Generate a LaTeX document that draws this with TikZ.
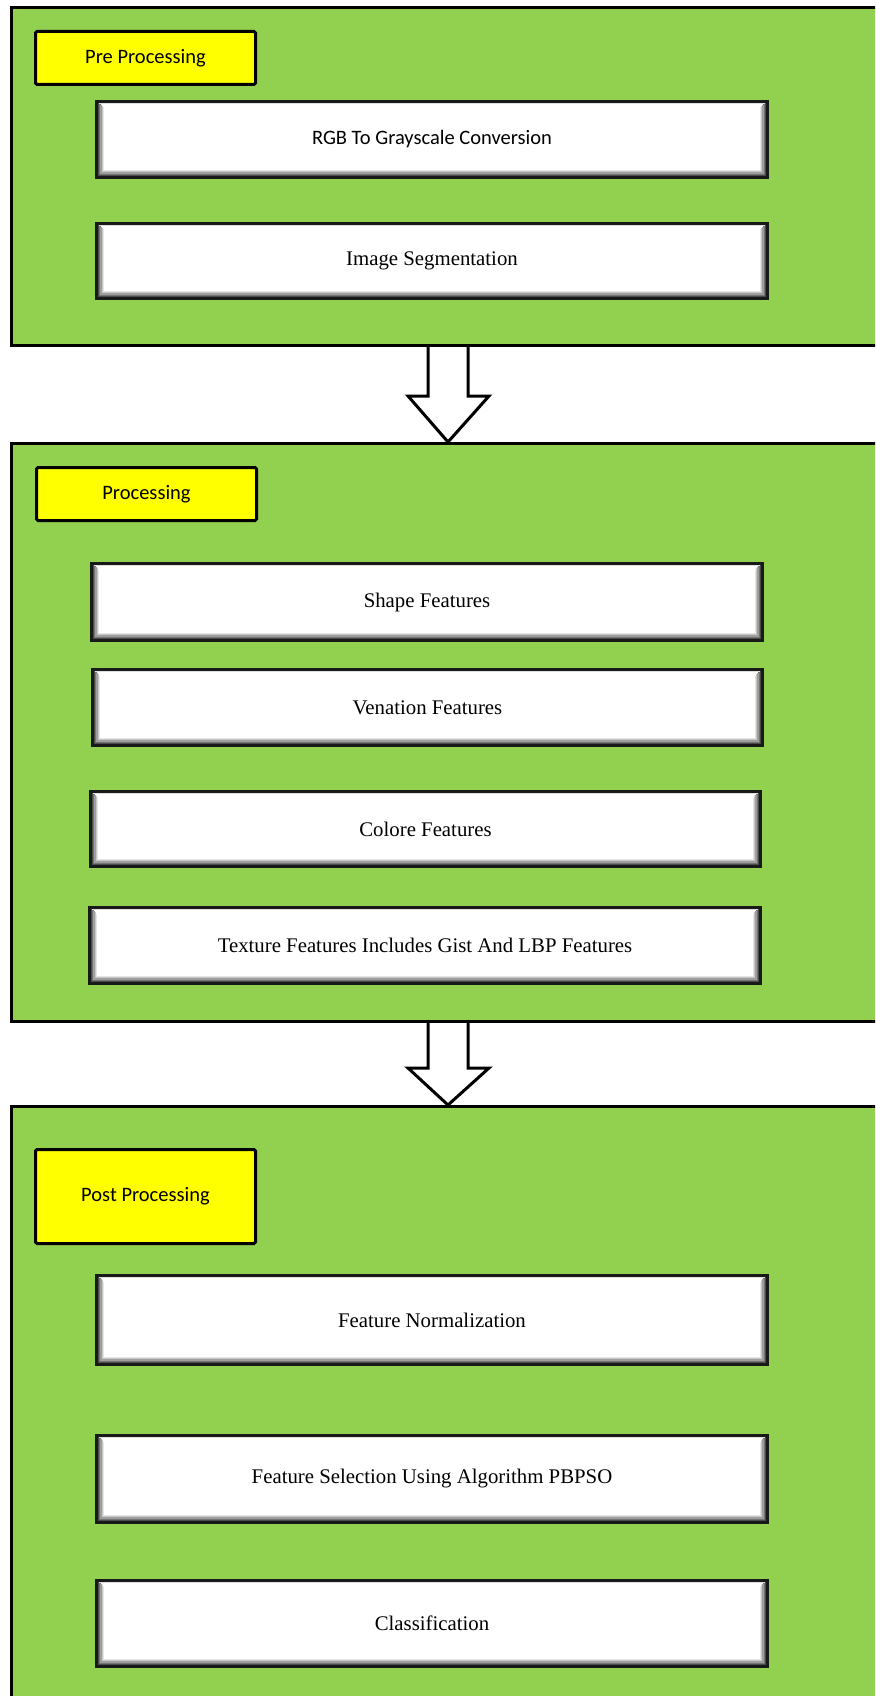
\documentclass[tikz,border=0pt]{standalone}
\usepackage{fontspec}
\setmainfont{Liberation Serif}
\newfontfamily\calib{Carlito}
\usetikzlibrary{calc}
\definecolor{leafgreen}{HTML}{92D050}
\definecolor{tagyellow}{HTML}{FFFF00}
\begin{document}
\begin{tikzpicture}[x=1pt,y=-1pt,
  panel/.style={draw=black,line width=3pt,fill=leafgreen,anchor=north west,inner sep=0pt,minimum width=900pt},
  tag/.style={draw=black,line width=3pt,fill=tagyellow,rounded corners=1.5pt,anchor=north west,inner sep=0pt,
     minimum width=220pt,font=\calib\fontsize{20.5}{24}\selectfont},
  featbox/.style={draw=black!90,line width=3pt,fill=white,anchor=north west,inner sep=0pt,
     minimum width=671pt,font=\fontsize{20.8}{24}\selectfont,
     path picture={
       \draw[gray!25,line width=1.5pt] ($(path picture bounding box.north west)+(2,2.2)$) -- ($(path picture bounding box.north east)+(-2,2.2)$);
       \foreach \i/\c in {2.2/70,3.4/55,4.6/38,5.8/22,7/10}{
         \draw[black!\c,line width=1.3pt]
           ($(path picture bounding box.north west)+(\i,\i-1)$) --
           ($(path picture bounding box.south west)+(\i,-\i)$) --
           ($(path picture bounding box.south east)+(-\i,-\i)$) --
           ($(path picture bounding box.north east)+(-\i,\i-1)$);
       }
     }},
  sansbox/.style={featbox,font=\calib\fontsize{20.5}{24}\selectfont},
  downarrow/.style={draw=black,line width=3pt,fill=white,line join=miter}]
\useasboundingbox (0,0) rectangle (875,1696);
\clip (0,0) rectangle (875,1696);
\fill[white] (0,0) rectangle (875,1696);

% panels
\node[panel,minimum height=338pt] (p1) at (10,6) {};
\node[panel,minimum height=578pt] (p2) at (10,442) {};
\node[panel,minimum height=640pt] (p3) at (10,1105) {};

% arrows between panels
\coordinate (t1) at ($(p1.south west)+(438,0)$);
\coordinate (b1) at ($(p2.north west)+(438,0)$);
\draw[downarrow] ($(t1)+(-20,0)$) -- ($(t1)+(-20,49)$) -- ($(t1)+(-40,49)$) -- (b1)
  -- ($(t1)+(41,49)$) -- ($(t1)+(20,49)$) -- ($(t1)+(20,0)$);
\coordinate (t2) at ($(p2.south west)+(438,0)$);
\coordinate (b2) at ($(p3.north west)+(438,0)$);
\draw[downarrow] ($(t2)+(-20,0)$) -- ($(t2)+(-20,45)$) -- ($(t2)+(-40,45)$) -- (b2)
  -- ($(t2)+(41,45)$) -- ($(t2)+(20,45)$) -- ($(t2)+(20,0)$);

% tags
\node[tag,minimum height=53pt] (tag1) at (34,30) {Pre Processing};
\node[tag,minimum height=53pt] (tag2) at (35,466) {Processing};
\node[tag,minimum height=94pt] (tag3) at (34,1148) {Post Processing};

% pre processing
\node[sansbox,minimum height=76pt] (rgb) at (95,100) {RGB To Grayscale Conversion};
\node[featbox,minimum height=75pt] (seg) at (95,222) {Image Segmentation};

% processing
\node[featbox,minimum height=77pt,minimum width=671pt] (shape) at (90,562) {Shape Features};
\node[featbox,minimum height=76pt,minimum width=670pt] (ven) at (91,668) {Venation Features};
\node[featbox,minimum height=75pt,minimum width=670pt] (col) at (89,790) {Colore Features};
\node[featbox,minimum height=76pt,minimum width=671pt] (tex) at (88,906) {Texture Features Includes Gist And LBP Features};

% post processing
\node[featbox,minimum height=89pt] (norm) at (95,1274) {Feature Normalization};
\node[featbox,minimum height=87pt] (sel) at (95,1434) {Feature Selection Using Algorithm PBPSO};
\node[featbox,minimum height=86pt] (cls) at (95,1579) {Classification};
\end{tikzpicture}
\end{document}
